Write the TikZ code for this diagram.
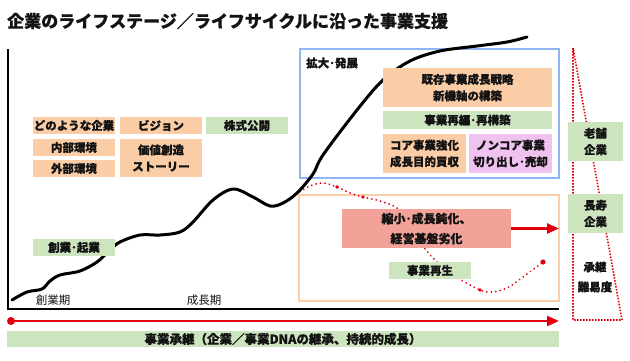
\documentclass[tikz,border=0pt]{standalone}
\usepackage{fontspec}
\setmainfont{Noto Sans CJK JP}[BoldFeatures={FakeBold=0.6}]
\usetikzlibrary{arrows.meta}
\definecolor{peach}{HTML}{FBCDA6}
\definecolor{lgreen}{HTML}{CDE5BE}
\definecolor{lpink}{HTML}{F0C2F0}
\definecolor{salmon}{HTML}{F3A29A}
\definecolor{bluebd}{HTML}{8FB5F2}
\definecolor{peachbd}{HTML}{FBCFAA}
\definecolor{redc}{HTML}{E20010}
\definecolor{txt}{HTML}{141414}
\tikzset{
  bx/.style={inner sep=0pt, text=txt, align=center, font=\fontsize{11.5}{16.5}\selectfont\bfseries},
  pbox/.style={bx, fill=peach},
  gbox/.style={bx, fill=lgreen},
  vbox/.style={bx, fill=lpink},
  sbox/.style={bx, fill=salmon, font=\fontsize{12}{20}\selectfont\bfseries},
  lbl/.style={inner sep=0pt, text=txt, font=\fontsize{11.5}{20}\selectfont\bfseries, align=center},
  redarrow/.style={draw=redc, line width=2.5pt, -{Triangle[length=12pt,width=10pt]}},
  reddots/.style={draw=redc, line width=2pt, line cap=round, dash pattern=on 0.01pt off 4.5pt},
}
\begin{document}
\begin{tikzpicture}[x=1pt,y=-1pt]
\useasboundingbox (0,0) rectangle (630,360);
\fill[white] (0,0) rectangle (630,360);

% title
\node[anchor=west, inner sep=0pt, text=txt, font=\fontsize{17}{20}\selectfont\bfseries] (title) at (7,21) {企業のライフステージ／ライフサイクルに沿った事業支援};

% trapezoid (difficulty)
\coordinate (tA) at (573,48);
\coordinate (tB) at (573,320);
\coordinate (tC) at (622,320);
\draw[draw=redc, line width=1.6pt, dash pattern=on 1.5pt off 1.5pt] (tA) -- (tB) -- (tC) -- cycle;

% frames
\draw[bluebd, line width=2pt] (300,49) rectangle (559,178);
\draw[peachbd, line width=2pt] (299,195) rectangle (559,301);

% axes
\coordinate (ax0) at (8,49);
\coordinate (ax1) at (8,309);
\coordinate (ax2) at (559,309);
\draw[black, line width=1.2pt] (ax0) -- (ax1) -- (ax2);

% red dotted decline curve
\draw[reddots] plot[smooth, tension=0.6] coordinates {(296,194) (310,186) (323,183) (337,187) (350,193) (363,197) (380,201) (397,208) (410,222) (423,246) (437,262) (450,273) (463,281) (480,290) (492,292) (507,288) (523,277) (543,262)};
\fill[redc] (543,262) circle (2.6pt);
\fill[redc] (337,187) circle (1.8pt);
\fill[redc] (363,197) circle (1.8pt);
\fill[redc] (480,290) circle (1.8pt);

% growth curve
\draw[black, line width=3pt, line cap=round] plot[smooth, tension=0.55] coordinates {(12,300) (27,292) (42,289) (50,281) (60,275) (80,271) (97,262) (110,250) (120,242) (140,235) (160,235) (180,232) (193,222) (213,200) (233,189) (253,197) (270,206) (283,203) (297,193) (313,174) (323,155) (357,110) (383,80) (410,61) (440,51) (477,46) (507,42) (527,37)};

% left boxes
\node[pbox, minimum width=82, minimum height=17] (b1) at (74,125.5) {どのような企業};
\node[pbox, minimum width=82, minimum height=17] (b2) at (161,125.5) {ビジョン};
\node[gbox, minimum width=82, minimum height=17] (b3) at (247,125.5) {株式公開};
\node[pbox, minimum width=82, minimum height=17] (b4) at (74,147.5) {内部環境};
\node[pbox, minimum width=82, minimum height=17] (b5) at (74,168.5) {外部環境};
\node[pbox, minimum width=82, minimum height=38] (b6) at (161,158) {価値創造\\ストーリー};
\node[gbox, minimum width=82, minimum height=17] (b7) at (74,247.5) {創業･起業};

% axis labels
\node[lbl, font=\fontsize{11.5}{14}\selectfont] (p1) at (53,300) {創業期};
\node[lbl, font=\fontsize{11.5}{14}\selectfont] (p2) at (204,300) {成長期};

% expansion
\node[lbl, anchor=west] (ex) at (306,63) {拡大･発展};
\node[pbox, minimum width=169, minimum height=39] (e1) at (467.5,87.5) {既存事業成長戦略\\新機軸の構築};
\node[gbox, minimum width=169, minimum height=18] (e2) at (467.5,120) {事業再編･再構築};
\node[pbox, minimum width=83, minimum height=39] (e3) at (424.5,153.5) {コア事業強化\\成長目的買収};
\node[vbox, minimum width=83, minimum height=39] (e4) at (510.5,153.5) {ノンコア事業\\切り出し･売却};

% decline
\node[sbox, minimum width=169, minimum height=39] (d1) at (426.5,228.5) {縮小･成長鈍化、\\経営基盤劣化};
\node[gbox, minimum width=82, minimum height=17] (d2) at (430,270.5) {事業再生};
\coordinate (dEnd) at (559,228.5);
\draw[redarrow] (d1.east) -- (dEnd);

% right boxes
\node[gbox, minimum width=55, minimum height=39] (r1) at (595.5,141.5) {老舗\\企業};
\node[gbox, minimum width=55, minimum height=39] (r2) at (595.5,213.5) {長寿\\企業};
\node[lbl] (r3) at (595,277) {承継\\難易度};

% succession line
\node[circle, fill=redc, inner sep=0pt, minimum size=8] (s0) at (11,321) {};
\coordinate (s1) at (559,321);
\draw[redarrow] (s0.center) -- (s1);

\node[gbox, minimum width=552, minimum height=16, font=\fontsize{12.5}{14}\selectfont\bfseries] (bar) at (283,339) {事業承継（企業／事業DNAの継承、持続的成長）};
\end{tikzpicture}
\end{document}
